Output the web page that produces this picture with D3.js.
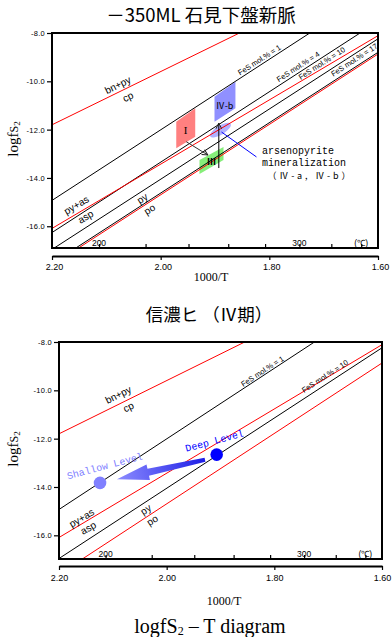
<!DOCTYPE html>
<html><head><meta charset="utf-8">
<script src="https://cdn.jsdelivr.net/npm/d3@7/dist/d3.min.js"></script>
<style>
body{margin:0;background:#fff;}
svg{display:block;}
</style></head><body>
<svg id="chart" width="392" height="637"></svg>
<script>
// ---------------- data ----------------
const xTickValues = [2.20, 2.00, 1.80, 1.60];
const xTickLabels = ["2.20", "2.00", "1.80", "1.60"];
const yTickValues = [-8, -10, -12, -14, -16];
const yTickLabels = ["-8.0", "-10.0", "-12.0", "-14.0", "-16.0"];
const tempTickValues = [200, 220, 240, 260, 280, 300, 320, 340];   // °C
const tempLabelValues = [200, 300, 340];
const tempLabelTexts = ["200", "300", "(℃)"];

// equilibrium lines: endpoints in (1000/T, logfS2)
const lineIds   = ["bnpy_cp", "fes1", "fes4", "pyas_asp", "fes10", "fes17", "py_po"];
const lineKinds = ["reaction", "isopleth", "isopleth", "reaction", "isopleth", "isopleth", "reaction"];
const lineX1 = [2.200, 2.200, 2.200, 2.200, 2.200, 2.163, 2.158];
const lineY1 = [-11.80, -14.93, -16.26, -16.09, -16.96, -17.00, -17.00];
const lineX2 = [1.855, 1.7255, 1.633, 1.600, 1.600, 1.600, 1.600];
const lineY2 = [-8.00, -8.00, -8.00, -8.11, -8.24, -8.80, -8.87];
const chart1Lines = ["bnpy_cp", "fes1", "fes4", "pyas_asp", "fes10", "fes17", "py_po"];
const chart2Lines = ["bnpy_cp", "fes1", "pyas_asp", "fes10", "py_po"];

// line labels
const label1Texts  = ["bn+py", "cp", "py+as", "asp", "py", "po", "FeS mol.% = 1", "FeS mol.% = 4", "FeS mol.% = 10", "FeS mol.% = 17"];
const label1Follow = ["bnpy_cp", "bnpy_cp", "pyas_asp", "pyas_asp", "py_po", "py_po", "fes1", "fes4", "fes10", "fes17"];
const label1X = [2.0787, 2.0603, 2.1551, 2.138, 2.0338, 2.0204, 1.8182, 1.7469, 1.7033, 1.6436];
const label1Y = [-10.153, -10.638, -15.122, -15.607, -14.845, -15.30, -9.118, -9.395, -9.255, -9.118];
const label2Texts  = ["bn+py", "cp", "py+as", "asp", "py", "po", "FeS mol.% = 1", "FeS mol.% = 10"];
const label2Follow = ["bnpy_cp", "bnpy_cp", "pyas_asp", "pyas_asp", "py_po", "py_po", "fes1", "fes10"];
const label2X = [2.0898, 2.0712, 2.158, 2.1457, 2.0389, 2.0266, 1.822, 1.7059];
const label2Y = [-10.18, -10.69, -15.28, -15.695, -14.935, -15.378, -9.216, -9.423];

// chart 1 stage regions (1000/T, logfS2)
const regionNames = ["I", "Ⅳ-b", "Ⅲ"];
const regionI   = [[1.9713, -11.67], [1.9364, -11.12], [1.9364, -12.29], [1.9713, -12.77]];
const regionIVb = [[1.9009, -10.64], [1.8624, -10.02], [1.8624, -11.12], [1.9009, -11.67]];
const regionIII = [[1.9285, -13.26], [1.8844, -12.72], [1.8844, -13.26], [1.9285, -13.84]];
const regionLabelX = [1.9542, 1.8825, 1.9064];
const regionLabelY = [-12.00, -11.00, -13.30];
const regionIVa = [1.8899, -12.02];   // centre of IV-a field
const arrowI_III  = [[1.9529, -12.50], [1.9132, -13.05]];
const arrowIII_IV = [[1.8930, -13.59], [1.8930, -11.73]];
const leaderIVa   = [[1.888, -12.10], [1.8237, -13.13]];
const noteLines = ["arsenopyrite", "mineralization", "（Ⅳ-a, Ⅳ-b）"];

// chart 2 levels
const levelNames = ["Deep Level", "Shallow Level"];
const levelX = [1.9071, 2.1238];
const levelY = [-12.66, -13.83];
const levelArrow = [[1.9288, -12.87], [2.0923, -13.675]];

// ---------------- drawing ----------------
const svg = d3.select("#chart");
const defs = svg.append("defs");

const charts = [
  {id: 1, left: 52, right: 378, top: 33, bottom: 248, yMin: -16.9, axisY: 256, tickLabY: 267, labDx: 2,
   xTitle: [211, 277], yTitle: [18, 139], lines: chart1Lines,
   labels: {t: label1Texts, f: label1Follow, x: label1X, y: label1Y}},
  {id: 2, left: 59, right: 382, top: 342, bottom: 559, yMin: -16.98, axisY: 566, tickLabY: 578, labDx: 0,
   xTitle: [224, 601], yTitle: [18, 449], lines: chart2Lines,
   labels: {t: label2Texts, f: label2Follow, x: label2X, y: label2Y}}
];

const tk = t => 1000 / (t + 273.15);

charts.forEach(cfg => {
  const x = d3.scaleLinear().domain([2.2, 1.6]).range([cfg.left, cfg.right]);
  const y = d3.scaleLinear().domain([-8, cfg.yMin]).range([cfg.top, cfg.bottom]);
  cfg.x = x; cfg.y = y;
  const g = svg.append("g");

  defs.append("clipPath").attr("id", "clip" + cfg.id).append("rect")
    .attr("x", cfg.left).attr("y", cfg.top)
    .attr("width", cfg.right - cfg.left).attr("height", cfg.bottom - cfg.top);
  const plot = g.append("g").attr("clip-path", `url(#clip${cfg.id})`);
  cfg.plot = plot;

  // regions (chart 1) drawn below lines
  if (cfg.id === 1) {
    const poly = d3.line().x(d => x(d[0])).y(d => y(d[1]));
    const regions = [regionI, regionIVb, regionIII];
    const fills = ["#ff8080", "#9090ff", "#86ee7a"];
    regions.forEach((r, i) => plot.append("path").attr("d", poly(r) + "Z").attr("fill", fills[i]));
    plot.append("ellipse")
      .attr("transform", `translate(${x(regionIVa[0])},${y(regionIVa[1])}) rotate(-32)`)
      .attr("rx", 12).attr("ry", 4.5).attr("fill", "#a8a8ff").attr("opacity", 0.9);
  }

  // lines
  cfg.lines.forEach(id => {
    const i = lineIds.indexOf(id);
    plot.append("line")
      .attr("x1", x(lineX1[i])).attr("y1", y(lineY1[i]))
      .attr("x2", x(lineX2[i])).attr("y2", y(lineY2[i]))
      .attr("stroke", lineKinds[i] === "reaction" ? "#ff0000" : "#000")
      .attr("stroke-width", 1);
  });

  // line labels
  const L = cfg.labels;
  L.t.forEach((t, k) => {
    const i = lineIds.indexOf(L.f[k]);
    const ang = Math.atan2(y(lineY2[i]) - y(lineY1[i]), x(lineX2[i]) - x(lineX1[i])) * 180 / Math.PI;
    const isFeS = t.startsWith("FeS");
    g.append("text")
      .attr("transform", `translate(${x(L.x[k])},${y(L.y[k])}) rotate(${ang})`)
      .attr("text-anchor", "middle").attr("dominant-baseline", "central")
      .attr("font-family", "Liberation Sans, Arial, sans-serif")
      .attr("font-size", isFeS ? 7.5 : 10)
      .text(t);
  });

  // frame
  g.append("rect").attr("x", cfg.left).attr("y", cfg.top)
    .attr("width", cfg.right - cfg.left).attr("height", cfg.bottom - cfg.top)
    .attr("fill", "none").attr("stroke", "#000").attr("stroke-width", 2);

  // y axis
  const ya = g.append("g").attr("transform", `translate(${cfg.left},0)`)
    .call(d3.axisLeft(y).tickValues(yTickValues).tickSize(5).tickPadding(2)
      .tickFormat((d, i) => yTickLabels[i]));
  ya.select(".domain").remove();
  ya.selectAll("line").attr("stroke-width", 1.2);
  ya.selectAll("text").attr("font-family", "Liberation Sans, Arial, sans-serif")
    .attr("font-size", 7.5).attr("letter-spacing", 0.3);

  // temperature ticks inside bottom frame
  const ta = g.append("g").attr("transform", `translate(0,${cfg.bottom})`)
    .call(d3.axisTop(x).tickValues(tempTickValues.map(tk)).tickSize(4).tickFormat(""));
  ta.select(".domain").remove();
  ta.selectAll("line").attr("stroke-width", 1.2);
  tempLabelValues.forEach((t, i) => {
    g.append("text").attr("x", x(tk(t))).attr("y", cfg.bottom - 5.5)
      .attr("text-anchor", "middle").attr("dominant-baseline", "central")
      .attr("font-family", "Liberation Sans, Arial, sans-serif").attr("font-size", 8.5)
      .text(tempLabelTexts[i]);
  });

  // x axis (separate, below frame)
  const xa = g.append("g").attr("transform", `translate(0,${cfg.axisY})`)
    .call(d3.axisBottom(x).tickValues(xTickValues).tickSize(4).tickSizeOuter(0)
      .tickFormat((d, i) => xTickLabels[i]));
  xa.select(".domain").attr("stroke-width", 2);
  xa.selectAll("line").attr("stroke-width", 1.2);
  xa.selectAll("text").attr("y", null).attr("dy", null)
    .attr("transform", `translate(${cfg.labDx},${cfg.tickLabY - cfg.axisY})`)
    .attr("dominant-baseline", "central")
    .attr("font-family", "Liberation Sans, Arial, sans-serif").attr("font-size", 9);

  // axis titles
  g.append("text").attr("x", cfg.xTitle[0]).attr("y", cfg.xTitle[1])
    .attr("text-anchor", "middle").attr("dominant-baseline", "central")
    .attr("font-family", "Liberation Serif, serif").attr("font-size", 12).text("1000/T");
  const yt = g.append("text")
    .attr("transform", `translate(${cfg.yTitle[0]},${cfg.yTitle[1]}) rotate(-90)`)
    .attr("text-anchor", "middle")
    .attr("font-family", "Liberation Serif, serif").attr("font-size", 15);
  yt.append("tspan").text("logf");
  yt.append("tspan").attr("font-size", 12).text("S");
  yt.append("tspan").attr("font-size", 9).attr("dy", 2).text("2");
});

// ---- chart 1 annotations ----
(function () {
  const c = charts[0], x = c.x, y = c.y;
  const g = svg.append("g");
  defs.append("marker").attr("id", "vhead").attr("viewBox", "0 0 10 10")
    .attr("refX", 9).attr("refY", 5).attr("markerWidth", 7).attr("markerHeight", 7)
    .attr("markerUnits", "userSpaceOnUse").attr("orient", "auto")
    .append("path").attr("d", "M1,1 L9,5 L1,9").attr("fill", "none").attr("stroke", "#222")
    .attr("stroke-width", 1.4);
  g.append("line").attr("x1", x(arrowI_III[0][0])).attr("y1", y(arrowI_III[0][1]))
    .attr("x2", x(arrowI_III[1][0])).attr("y2", y(arrowI_III[1][1]))
    .attr("stroke", "#333").attr("stroke-width", 1).attr("marker-end", "url(#vhead)");
  g.append("line").attr("x1", x(arrowIII_IV[0][0])).attr("y1", y(arrowIII_IV[0][1]))
    .attr("x2", x(arrowIII_IV[1][0])).attr("y2", y(arrowIII_IV[1][1]))
    .attr("stroke", "#000").attr("stroke-width", 1).attr("marker-end", "url(#vhead)");
  g.append("line").attr("x1", x(leaderIVa[0][0])).attr("y1", y(leaderIVa[0][1]))
    .attr("x2", x(leaderIVa[1][0])).attr("y2", y(leaderIVa[1][1]))
    .attr("stroke", "#0000ff").attr("stroke-width", 1);
  regionNames.forEach((n, i) => {
    g.append("text").attr("x", x(regionLabelX[i])).attr("y", y(regionLabelY[i]))
      .attr("text-anchor", "middle").attr("dominant-baseline", "central")
      .attr("font-family", i === 0 ? "Liberation Serif, serif" : "Noto Sans CJK JP, sans-serif")
      .attr("font-size", i === 0 ? 11 : 9).attr("font-weight", i === 2 ? "bold" : "normal")
      .text(n);
  });
  const nx = x(leaderIVa[1][0]) + 5.5, ny = y(leaderIVa[1][1]) - 6;
  noteLines.forEach((t, i) => {
    const tx = g.append("text").attr("x", nx + (i === 2 ? 5.5 : 0)).attr("y", ny + i * 11.3 + 3.5 + (i === 2 ? 1.5 : 0))
      .attr("font-family", i === 2 ? "Noto Sans CJK JP, sans-serif" : "Liberation Mono, monospace")
      .attr("font-size", i === 2 ? 9 : 10).text(t);
    if (i === 2) tx.attr("textLength", 83).attr("lengthAdjust", "spacing");
  });
})();

// ---- chart 2 annotations ----
(function () {
  const c = charts[1], x = c.x, y = c.y;
  const g = svg.append("g");
  const p0 = [x(levelArrow[0][0]), y(levelArrow[0][1])];
  const p1 = [x(levelArrow[1][0]), y(levelArrow[1][1])];
  const dx = p1[0] - p0[0], dy = p1[1] - p0[1], len = Math.hypot(dx, dy);
  const ux = dx / len, uy = dy / len, nx = -uy, ny = ux;
  const headL = 32, headW = 8, w0 = 2, w1 = 3.5;
  const hb = [p1[0] - ux * headL, p1[1] - uy * headL];
  const pts = [
    [p0[0] + nx * w0, p0[1] + ny * w0], [hb[0] + nx * w1, hb[1] + ny * w1],
    [hb[0] + nx * headW, hb[1] + ny * headW], p1,
    [hb[0] - nx * headW, hb[1] - ny * headW], [hb[0] - nx * w1, hb[1] - ny * w1],
    [p0[0] - nx * w0, p0[1] - ny * w0]];
  const grad = defs.append("linearGradient").attr("id", "lvgrad").attr("gradientUnits", "userSpaceOnUse")
    .attr("x1", p0[0]).attr("y1", p0[1]).attr("x2", p1[0]).attr("y2", p1[1]);
  grad.append("stop").attr("offset", 0).attr("stop-color", "#1e1ee6");
  grad.append("stop").attr("offset", 1).attr("stop-color", "#8c8cff");
  g.append("path").attr("d", d3.line()(pts) + "Z").attr("fill", "url(#lvgrad)");

  const cols = ["#0000ff", "#8080ff"];
  levelNames.forEach((n, i) => {
    g.append("circle").attr("cx", x(levelX[i])).attr("cy", y(levelY[i])).attr("r", 6.3).attr("fill", cols[i]);
  });
  const labOff = [[-2, -13], [5, -16]];
  levelNames.forEach((n, i) => {
    g.append("text")
      .attr("transform", `translate(${x(levelX[i]) + labOff[i][0]},${y(levelY[i]) + labOff[i][1]}) rotate(-15)`)
      .attr("text-anchor", "middle").attr("dominant-baseline", "central")
      .attr("font-family", "Liberation Mono, monospace").attr("font-size", 10)
      .attr("fill", cols[i]).text(n);
  });
})();

// ---- titles ----
svg.append("text").attr("x", 201).attr("y", 21.5).attr("text-anchor", "middle")
  .attr("font-family", "Noto Sans CJK JP, sans-serif").attr("font-size", 18.5).text("－350ML 石見下盤新脈");
svg.append("text").attr("x", 209).attr("y", 321).attr("text-anchor", "middle")
  .attr("font-family", "Noto Sans CJK JP, sans-serif").attr("font-size", 17.5).text("信濃ヒ （Ⅳ期）");
const t3 = svg.append("text").attr("x", 210).attr("y", 633).attr("text-anchor", "middle")
  .attr("font-family", "Liberation Serif, serif").attr("font-size", 20);
t3.append("tspan").text("logfS");
t3.append("tspan").attr("font-size", 12).attr("dy", 2).text("2");
t3.append("tspan").attr("dy", -2).text(" – T diagram");
</script>
</body></html>
